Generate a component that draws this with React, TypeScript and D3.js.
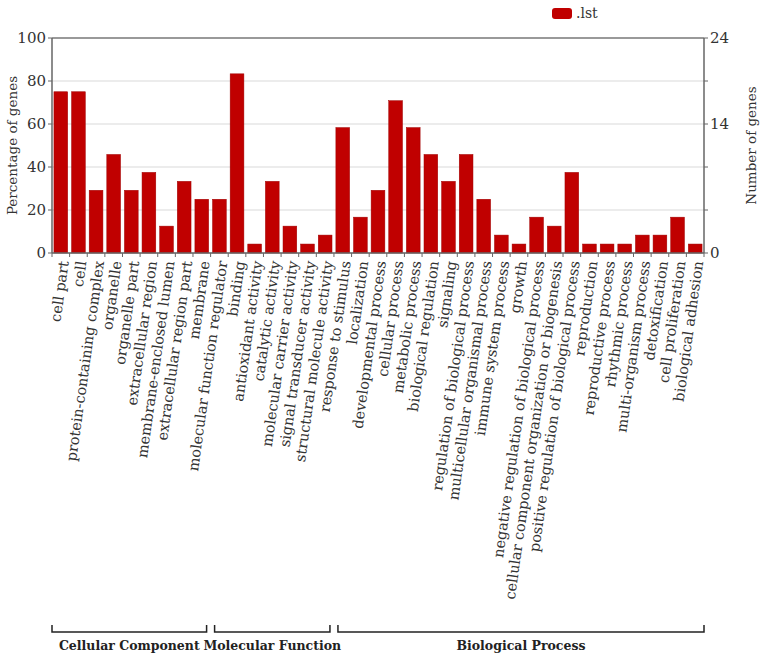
import React from "react";
import * as d3 from "d3";

const categories = [
  "cell part", "cell", "protein-containing complex", "organelle", "organelle part",
  "extracellular region", "membrane-enclosed lumen", "extracellular region part", "membrane",
  "molecular function regulator", "binding", "antioxidant activity", "catalytic activity",
  "molecular carrier activity", "signal transducer activity", "structural molecule activity",
  "response to stimulus", "localization", "developmental process", "cellular process",
  "metabolic process", "biological regulation", "signaling", "regulation of biological process",
  "multicellular organismal process", "immune system process", "growth",
  "negative regulation of biological process", "cellular component organization or biogenesis",
  "positive regulation of biological process", "reproduction", "reproductive process",
  "rhythmic process", "multi-organism process", "detoxification", "cell proliferation",
  "biological adhesion",
];
const geneCounts = [
  18, 18, 7, 11, 7, 9, 3, 8, 6,
  6, 20, 1, 8, 3, 1, 2,
  14, 4, 7, 17, 14, 11, 8, 11, 6, 2, 1, 4, 3, 9, 1, 1, 1, 2, 2, 4, 1,
];
const totalGenes = 24;
const groups = [
  { name: "Cellular Component", start: 0, end: 8 },
  { name: "Molecular Function", start: 9, end: 15 },
  { name: "Biological Process", start: 16, end: 36 },
];
const leftTicks = [0, 20, 40, 60, 80, 100];
const rightTickLabels = ["0", "", "", "14", "", "24"];
const seriesName = ".lst";

const W = 768, H = 660;
const m = { left: 52, right: 704, top: 38, bottom: 253 };
const FONT = "DejaVu Serif, serif";
const TXT = "#333";
const BAR = "#c00000";

export default function App() {
  const x = d3.scaleBand<string>().domain(categories).range([m.left, m.right]).paddingInner(0.22).paddingOuter(0.11);
  const y = d3.scaleLinear().domain([0, 100]).range([m.bottom, m.top]);
  const step = x.step();
  const bandStart = (i: number) => m.left + step * i;
  return (
    <svg width={W} height={H} style={{ position: "absolute", left: 0, top: 0, background: "#fff", fontFamily: FONT }}>
      {leftTicks.map((t) => (
        <line key={"g" + t} x1={m.left} x2={m.right} y1={y(t)} y2={y(t)}
          stroke={t === 100 ? "#777" : "#d9d9d9"} strokeWidth={t === 100 ? 1.5 : 1} />
      ))}
      {categories.map((c, i) => {
        const pct = (geneCounts[i] / totalGenes) * 100;
        return (
          <rect key={c} x={x(c)} y={y(pct)} width={x.bandwidth()} height={y(0) - y(pct)}
            fill={BAR} stroke="#a00000" strokeWidth={0.5} />
        );
      })}
      <line x1={m.left} x2={m.left} y1={m.top} y2={m.bottom} stroke="#666" strokeWidth={1.5} />
      <line x1={m.right} x2={m.right} y1={m.top} y2={m.bottom} stroke="#666" strokeWidth={1.5} />
      <line x1={m.left} x2={m.right} y1={m.bottom} y2={m.bottom} stroke="#666" strokeWidth={1.5} />
      {leftTicks.map((t) => (
        <g key={"l" + t}>
          <line x1={m.left - 4} x2={m.left} y1={y(t)} y2={y(t)} stroke="#666" />
          <text x={m.left - 6} y={y(t)} dy="0.35em" textAnchor="end" fontSize={15} fill={TXT}>{t}</text>
        </g>
      ))}
      {leftTicks.map((t, i) => (
        <g key={"r" + t}>
          <line x1={m.right} x2={m.right + 4} y1={y(t)} y2={y(t)} stroke="#666" />
          <text x={m.right + 6} y={y(t)} dy="0.35em" textAnchor="start" fontSize={15} fill={TXT}>{rightTickLabels[i]}</text>
        </g>
      ))}
      {d3.range(categories.length + 1).map((i) => (
        <line key={"b" + i} x1={bandStart(i)} x2={bandStart(i)} y1={m.bottom} y2={m.bottom + 4} stroke="#666" />
      ))}
      {categories.map((c) => {
        const cx = (x(c) as number) + x.bandwidth() / 2;
        return (
          <text key={"t" + c} transform={`translate(${cx + 3},${m.bottom + 8}) rotate(-82)`}
            textAnchor="end" fontSize={14.5} fill={TXT} dy="0.35em">{c}</text>
        );
      })}
      <text transform={`translate(17,${(m.top + m.bottom) / 2}) rotate(-90)`} textAnchor="middle" fontSize={13.5} fill={TXT}>Percentage of genes</text>
      <text transform={`translate(756,${(m.top + m.bottom) / 2}) rotate(-90)`} textAnchor="middle" fontSize={13.5} fill={TXT}>Number of genes</text>
      <rect x={552} y={8} width={20} height={11} rx={3} fill={BAR} />
      <text x={576} y={18} fontSize={14} fill={TXT}>{seriesName}</text>
      {groups.map((g, gi) => {
        const x0 = bandStart(g.start) + (gi === 0 ? 0 : 4);
        const x1 = bandStart(g.end + 1) - (gi === groups.length - 1 ? 0 : 4);
        return (
          <g key={g.name}>
            <path d={`M${x0},625V632H${x1}V625`} fill="none" stroke="#222" strokeWidth={1.5} />
            <text x={(x0 + x1) / 2} y={650} textAnchor="middle" fontSize={12.5} fontWeight="bold" fill="#222">{g.name}</text>
          </g>
        );
      })}
    </svg>
  );
}
